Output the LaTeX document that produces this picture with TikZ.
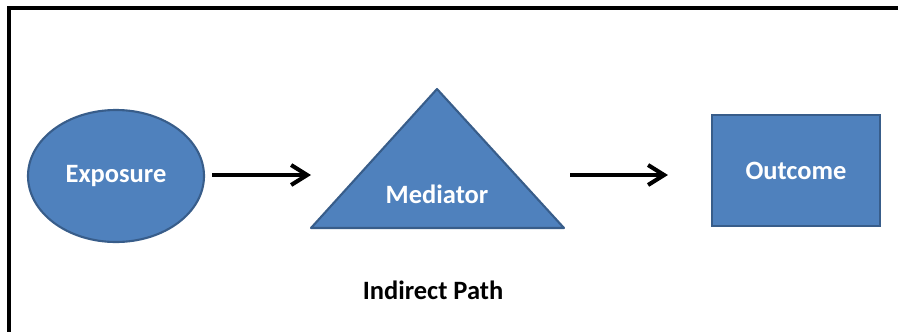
\documentclass[tikz,border=0pt]{standalone}
\usepackage{fontspec}
\setmainfont{Carlito}
\usetikzlibrary{shapes.geometric,arrows.meta,calc}
\definecolor{shapefill}{HTML}{4F81BD}
\definecolor{shapeline}{HTML}{385D8A}
\begin{document}
\begin{tikzpicture}
[
   x=0.03cm,y=-0.03cm,
   every node/.style={font=\fontsize{22.6}{27}\selectfont\bfseries},
   blob/.style={fill=shapefill,draw=shapeline,line width=1.8pt,text=white,inner sep=0pt},
   link/.style={line width=3.5pt,-{Straight Barb[length=4.8mm,width=6mm]}}
]
\useasboundingbox (0,0) rectangle (898,332);
\draw[line width=2.6pt] (898,8) -- (9,8) -- (9,332);
% the three parts of the path
\node[blob,ellipse,minimum width=5.28cm,minimum height=3.96cm] (expo) at (116,176) {Exposure};
\coordinate (medL) at (311,228);
\coordinate (medT) at (437,89);
\coordinate (medR) at (564,228);
\filldraw[blob,line join=round] (medL) -- (medT) -- (medR) -- cycle;
\node[text=white,anchor=base] (medi) at (437,203) {Mediator};
\node[blob,minimum width=5.04cm,minimum height=3.33cm] (outc) at (796,170.5) {Outcome};
\node[anchor=base] (path) at (433,299) {Indirect Path};
% arrows
\draw[link] ($(expo.east)+(7,-1)$) -- ($(medL)+(0,-53)$);
\draw[link] ($(medR)+(6,-53)$) -- ($(outc.west)+(-43,4.5)$);
\end{tikzpicture}
\end{document}
